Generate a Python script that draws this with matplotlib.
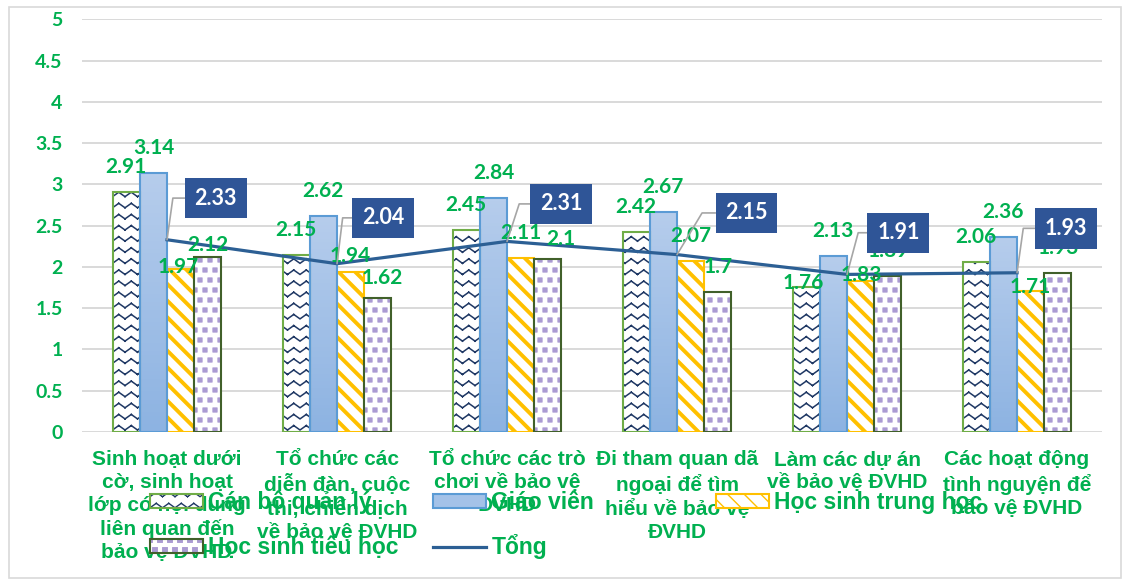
import warnings
import numpy as np
import matplotlib
matplotlib.use("Agg")
import matplotlib.pyplot as plt
import matplotlib.hatch as mhatch
from matplotlib.path import Path
from matplotlib.patches import Patch, Rectangle
from matplotlib.lines import Line2D
from matplotlib.colors import LinearSegmentedColormap

warnings.filterwarnings("ignore", message="hatch must consist")

categories = [
    "Sinh hoạt dưới\ncờ, sinh hoạt\nlớp có nội dung\nliên quan đến\nbảo vệ ĐVHD",
    "Tổ chức các\ndiễn đàn, cuộc\nthi, chiến dịch\nvề bảo vệ ĐVHD",
    "Tổ chức các trò\nchơi về bảo vệ\nĐVHD",
    "Đi tham quan dã\nngoại để tìm\nhiểu về bảo vệ\nĐVHD",
    "Làm các dự án\nvề bảo vệ ĐVHD",
    "Các hoạt động\ntình nguyện để\nbảo vệ ĐVHD",
]
can_bo = [2.91, 2.15, 2.45, 2.42, 1.76, 2.06]
giao_vien = [3.14, 2.62, 2.84, 2.67, 2.13, 2.36]
hs_trung_hoc = [1.97, 1.94, 2.11, 2.07, 1.83, 1.71]
hs_tieu_hoc = [2.12, 1.62, 2.1, 1.7, 1.89, 1.93]
tong = [2.33, 2.04, 2.31, 2.15, 1.91, 1.93]
names = ["Cán bộ quản lý", "Giáo viên", "Học sinh trung học",
         "Học sinh tiểu học", "Tổng"]
yticks = [0, 0.5, 1, 1.5, 2, 2.5, 3, 3.5, 4, 4.5, 5]

GREEN = "#00B050"
NAVY = "#1F3864"
BLUE_BOX = "#2F5597"
LINE = "#2C5F94"

# label nudges in points, (series, category) -> (dx, dy); default is (0, 18)
label_nudge = {
    (2, 0): (-2, 2), (3, 0): (0, 9),
    (2, 1): (0, 11.5), (3, 1): (3.5, 15),
    (3, 2): (9.5, 14),
    (0, 4): (-2, 3), (2, 4): (0.5, 4.5),
    (2, 5): (0, 3),
}
tong_offsets = [(35, 30), (33, 33), (39, 27), (50, 30), (37, 30), (35, 32)]
leader_angles = [82, 83, 72, 59, 75, 82]


class WaveHatch(mhatch.HatchPatternBase):
    # 'w' in a hatch string draws rows of small zigzag waves,
    # each stroke its own subpath so agg does not fill under it
    def __init__(self, hatch, density):
        self.num_rows = hatch.count('w') * 9
        self.num_segs = 16
        self.num_vertices = self.num_rows * self.num_segs * 2

    def set_vertices_and_codes(self, vertices, codes):
        xs = np.linspace(0, 1, self.num_segs + 1)
        amp = 0.2 / self.num_rows
        ys = np.where(np.arange(self.num_segs + 1) % 2 == 0, -amp, amp)
        n = self.num_segs * 2
        for i in range(self.num_rows):
            y0 = (i + 0.5) / self.num_rows
            rows = slice(i * n, (i + 1) * n)
            vertices[rows][0::2, 0] = xs[:-1]
            vertices[rows][0::2, 1] = y0 + ys[:-1]
            vertices[rows][1::2, 0] = xs[1:]
            vertices[rows][1::2, 1] = y0 + ys[1:]
            codes[rows][0::2] = Path.MOVETO
            codes[rows][1::2] = Path.LINETO


class StripeHatch(mhatch.HatchPatternBase):
    # 'y' draws fairly close "\" stripes
    def __init__(self, hatch, density):
        self.num_lines = hatch.count('y') * 12
        self.num_vertices = (self.num_lines + 1) * 2 if self.num_lines else 0

    def set_vertices_and_codes(self, vertices, codes):
        steps = np.linspace(-0.5, 0.5, self.num_lines + 1)
        vertices[0::2, 0] = 0.0 + steps
        vertices[0::2, 1] = 1.0 + steps
        vertices[1::2, 0] = 1.0 + steps
        vertices[1::2, 1] = 0.0 + steps
        codes[0::2] = Path.MOVETO
        codes[1::2] = Path.LINETO


class SquareDots(mhatch.Shapes):
    # 's' draws small filled squares on a staggered grid
    size = 0.45
    filled = True

    def __init__(self, hatch, density):
        self.num_rows = hatch.count('s') * 10
        self.shape_vertices = Path.unit_rectangle().vertices - 0.5
        self.shape_codes = Path.unit_rectangle().codes
        super().__init__(hatch, density)


mhatch._hatch_types.extend([WaveHatch, StripeHatch, SquareDots])

fig = plt.figure(figsize=(11.22, 5.80), dpi=100)
ax = fig.add_axes([0.0731, 0.2552, 0.9091, 0.7112])

x = np.arange(len(categories))
w = 0.16

with plt.rc_context({'hatch.linewidth': 1.1}):
    ax.bar(x - 1.5 * w, can_bo, w, color="white", edgecolor=NAVY,
           hatch="w", lw=0, zorder=2)
ax.bar(x - 1.5 * w, can_bo, w, fill=False, edgecolor="#70AD47", lw=1.5, zorder=2.1)

# light blue bars with a soft vertical gradient
blue_cmap = LinearSegmentedColormap.from_list("gv", ["#8DB3E2", "#B6CDEC"])
grad = np.linspace(0, 1, 64).reshape(-1, 1)
b1 = ax.bar(x - 0.5 * w, giao_vien, w, fill=False, edgecolor="#5B9BD5",
            lw=1.5, zorder=2.1)
for rect in b1:
    im = ax.imshow(grad, extent=(rect.get_x(), rect.get_x() + w, 0, rect.get_height()),
                   origin="lower", aspect="auto", cmap=blue_cmap, zorder=2)
    im.set_clip_path(rect)

with plt.rc_context({'hatch.linewidth': 2.8}):
    ax.bar(x + 0.5 * w, hs_trung_hoc, w, color="white", edgecolor="#FFC000",
           hatch="y", lw=1.5, zorder=2)

with plt.rc_context({'hatch.linewidth': 0.4}):
    ax.bar(x + 1.5 * w, hs_tieu_hoc, w, color="white", edgecolor="#AB9BD3",
           hatch="s", lw=0, zorder=2)
ax.bar(x + 1.5 * w, hs_tieu_hoc, w, fill=False, edgecolor="#41602A", lw=1.5, zorder=2.1)

ax.plot(x, tong, color=LINE, lw=2.3, zorder=3)

# value labels above the bars
for s, (vals, off) in enumerate(zip([can_bo, giao_vien, hs_trung_hoc, hs_tieu_hoc],
                                    [-1.5, -0.5, 0.5, 1.5])):
    for i, v in enumerate(vals):
        dx, dy = label_nudge.get((s, i), (0, 18))
        ax.annotate(f"{v:g}", (x[i] + off * w, v), xytext=(dx, dy),
                    textcoords="offset points", ha="center", va="center",
                    fontsize=15, fontweight="bold", family="Lato",
                    color=GREEN, zorder=4)

for i, v in enumerate(tong):
    ax.annotate(f"{v:g}", (x[i], v), xytext=tong_offsets[i],
                textcoords="offset points", ha="center", va="center",
                fontsize=15.5, fontweight="bold", family="Lato", color="white",
                bbox=dict(boxstyle="square,pad=0.45", fc=BLUE_BOX, ec="none"),
                arrowprops=dict(arrowstyle="-", color="#A6A6A6", lw=1.2,
                                shrinkA=0, shrinkB=0,
                                connectionstyle=f"angle,angleA=0,angleB={leader_angles[i]},rad=0"),
                zorder=5)

ax.set_xlim(-0.5, len(categories) - 0.5)
ax.set_ylim(0, 5)
ax.set_yticks(yticks)
ax.set_yticklabels([f"{t:g}" for t in yticks], fontsize=14, fontweight="bold",
                   family="Lato", color=GREEN)
ax.set_xticks(x)
ax.set_xticklabels(categories, fontsize=15, fontweight="bold",
                   family="Liberation Sans", color=GREEN, linespacing=1.27)
ax.tick_params(axis="y", length=0, pad=14)
ax.tick_params(axis="x", length=0, pad=13)
ax.grid(axis="y", color="#D9D9D9", lw=1.4, zorder=0)
ax.set_axisbelow(True)
for sp in ax.spines.values():
    sp.set_visible(False)

# outer chart frame
fig.patches.append(Rectangle((9 / 1122, 2 / 580), 1112 / 1122, 571 / 580,
                             transform=fig.transFigure, fill=False,
                             ec="#D9D9D9", lw=1.2))

# legend, laid out as three equal columns
with plt.rc_context({'hatch.linewidth': 1.1}):
    h_can_bo = (Patch(fc="white", ec=NAVY, hatch="w", lw=0),
                Patch(fill=False, ec="#70AD47", lw=1.5))
h_gv = Patch(fc="#A4C2E8", ec="#5B9BD5", lw=1.5)
with plt.rc_context({'hatch.linewidth': 2.8}):
    h_hs_th = Patch(fc="white", ec="#FFC000", hatch="y", lw=1.5)
with plt.rc_context({'hatch.linewidth': 0.4}):
    h_hs_tieu = (Patch(fc="white", ec="#AB9BD3", hatch="s", lw=0),
                 Patch(fill=False, ec="#41602A", lw=1.5))
h_tong = Line2D([], [], color=LINE, lw=2.3)

columns = [([h_can_bo, h_hs_tieu], [names[0], names[3]], 150),
           ([h_gv, h_tong], [names[1], names[4]], 433),
           ([h_hs_th], [names[2]], 716)]
for handles, labels, left in columns:
    leg = fig.legend(handles, labels, loc="upper left",
                     bbox_to_anchor=(left / 1122, 1 - 491 / 580),
                     frameon=False, borderpad=0, borderaxespad=0,
                     handlelength=2.3, handleheight=0.57, handletextpad=0.25,
                     labelspacing=0.88,
                     prop={"family": "Liberation Sans", "weight": "bold", "size": 16.5})
    for t in leg.get_texts():
        t.set_color(GREEN)

fig.savefig("out.png", dpi=100)
